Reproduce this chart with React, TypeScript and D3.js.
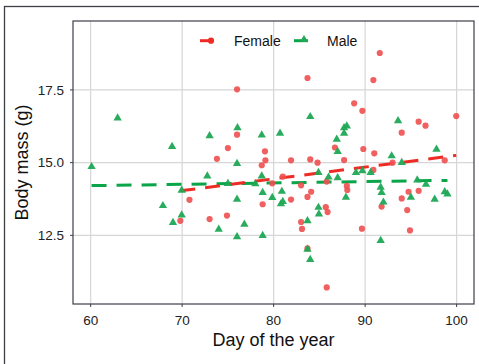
import React from "react";
import * as d3 from "d3";

// Day of the year and body mass (g) for each sex
const femaleDay = [69.8, 70.8, 73.0, 73.8, 75.0, 74.9, 76.0, 76.0, 78.7, 79.05, 79.1, 78.8, 79.85, 81.0, 81.9, 81.9, 83.0, 83.1, 83.0, 83.7, 83.7, 83.7, 84.0, 84.1, 84.8, 85.7, 85.9, 85.8, 85.8, 86.7, 87.7, 88.0, 88.05, 88.8, 89.7, 89.8, 89.65, 90.9, 91.0, 90.9, 91.6, 91.8, 93.0, 94.0, 94.0, 94.75, 94.6, 94.9, 95.85, 95.85, 96.6, 98.7, 99.96];
const femaleMass = [13.0, 13.72, 13.06, 15.13, 15.5, 13.18, 17.52, 15.96, 14.91, 15.39, 15.08, 13.57, 14.29, 14.52, 15.08, 13.73, 14.22, 12.72, 12.96, 17.91, 13.82, 12.05, 15.11, 14.0, 15.0, 13.47, 13.3, 10.71, 14.35, 15.52, 15.09, 14.2, 14.06, 17.04, 16.78, 15.47, 12.73, 17.84, 15.32, 14.75, 18.77, 13.49, 15.0, 16.03, 13.77, 14.0, 13.37, 12.67, 16.41, 14.03, 16.27, 15.08, 16.6];

const maleDay = [60.1, 62.95, 67.9, 68.9, 69.0, 69.95, 69.95, 72.75, 73.0, 74.0, 75.0, 76.0, 76.0, 76.05, 76.0, 76.8, 78.0, 78.7, 78.7, 78.8, 78.8, 79.85, 80.7, 80.9, 80.8, 81.0, 84.0, 83.7, 83.7, 84.0, 84.9, 84.95, 84.9, 86.0, 86.9, 87.0, 87.0, 87.7, 88.0, 87.7, 87.9, 89.0, 89.7, 90.6, 91.7, 91.8, 92.0, 91.7, 92.9, 93.6, 94.0, 95.0, 95.7, 96.65, 97.6, 97.8, 98.7, 99.0];
const maleMass = [14.86, 16.53, 13.52, 15.55, 12.94, 14.05, 13.2, 14.54, 15.92, 12.71, 14.28, 13.74, 14.97, 16.2, 12.45, 12.88, 14.27, 15.95, 14.54, 13.97, 12.49, 13.8, 16.01, 14.01, 13.58, 13.66, 16.58, 13.0, 12.02, 11.67, 13.46, 13.23, 14.66, 14.5, 15.8, 15.38, 14.48, 16.2, 16.26, 16.01, 13.81, 14.66, 14.72, 14.66, 14.15, 13.97, 13.64, 12.32, 15.23, 16.44, 15.0, 13.81, 14.4, 14.25, 13.74, 15.46, 14.0, 13.92];

// Fitted linear trends (start and end of each line)
const femaleFitDay = [69.8, 99.96];
const femaleFitMass = [14.03, 15.25];
const maleFitDay = [60.1, 99.0];
const maleFitMass = [14.21, 14.39];

const xTicks = [60, 70, 80, 90, 100];
const yTicks = [12.5, 15.0, 17.5];
const seriesNames = ["Female", "Male"];

const RED_PT = "#ef4f4f";
const RED_LINE = "#ee2b24";
const GREEN_PT = "#1fa855";
const GREEN_LINE = "#0aa548";
const FONT = "'Liberation Sans', Arial, Helvetica, sans-serif";

export default function App() {
  const W = 479;
  const H = 364;
  const panel = { left: 73, top: 21, right: 474, bottom: 304 };

  const x = d3.scaleLinear().domain([58.07, 101.9]).range([panel.left, panel.right]);
  const y = d3.scaleLinear().domain([10.14, 19.87]).range([panel.bottom, panel.top]);

  const line = d3
    .line<[number, number]>()
    .x((d) => x(d[0]))
    .y((d) => y(d[1]));

  const femaleFit = femaleFitDay.map((d, i) => [d, femaleFitMass[i]] as [number, number]);
  const maleFit = maleFitDay.map((d, i) => [d, maleFitMass[i]] as [number, number]);

  const tri = d3.symbol().type(d3.symbolTriangle).size(30)() as string;
  const triSmall = d3.symbol().type(d3.symbolTriangle).size(30)() as string;

  const legendY = 40.7;

  return (
    <svg
      width={W}
      height={H}
      style={{ position: "absolute", left: 0, top: 0, background: "#ffffff" }}
      fontFamily={FONT}
    >
      <rect x={0} y={0} width={W} height={H} fill="#ffffff" />
      {/* outer frame */}
      <rect x={4.5} y={6.5} width={W + 20} height={H + 20} fill="none" stroke="#3c3f44" strokeWidth={1.3} />

      {/* grid */}
      {xTicks.map((t) => (
        <line key={"gx" + t} x1={x(t)} x2={x(t)} y1={panel.top} y2={panel.bottom} stroke="#d6d6d6" strokeWidth={1.2} />
      ))}
      {yTicks.map((t) => (
        <line key={"gy" + t} x1={panel.left} x2={panel.right} y1={y(t)} y2={y(t)} stroke="#d6d6d6" strokeWidth={1.2} />
      ))}

      {/* trend lines */}
      <path d={line(maleFit) as string} fill="none" stroke={GREEN_LINE} strokeWidth={3} strokeDasharray="15 10" />
      <path d={line(femaleFit) as string} fill="none" stroke={RED_LINE} strokeWidth={3} strokeDasharray="15 10" />

      {/* points */}
      {femaleDay.map((d, i) => (
        <circle key={"f" + i} cx={x(d)} cy={y(femaleMass[i])} r={3.1} fill={RED_PT} fillOpacity={0.9} />
      ))}
      {maleDay.map((d, i) => (
        <path key={"m" + i} d={tri} transform={`translate(${x(d)},${y(maleMass[i])})`} fill={GREEN_PT} fillOpacity={0.95} />
      ))}

      {/* panel border */}
      <rect
        x={panel.left}
        y={panel.top}
        width={panel.right - panel.left}
        height={panel.bottom - panel.top}
        fill="none"
        stroke="#3c3f4a"
        strokeWidth={1.2}
      />

      {/* x axis */}
      {xTicks.map((t) => (
        <g key={"tx" + t}>
          <line x1={x(t)} x2={x(t)} y1={panel.bottom} y2={panel.bottom + 3} stroke="#3c3f4a" strokeWidth={1} />
          <text x={x(t)} y={325} textAnchor="middle" fontSize={13.5} fill="#222">
            {t}
          </text>
        </g>
      ))}
      {/* y axis */}
      {yTicks.map((t) => (
        <g key={"ty" + t}>
          <line x1={panel.left - 3} x2={panel.left} y1={y(t)} y2={y(t)} stroke="#3c3f4a" strokeWidth={1} />
          <text x={64} y={y(t)} dy="0.35em" textAnchor="end" fontSize={13.5} fill="#222">
            {t.toFixed(1)}
          </text>
        </g>
      ))}

      <text x={(panel.left + panel.right) / 2} y={346} textAnchor="middle" fontSize={18} fill="#111">
        Day of the year
      </text>
      <text
        transform={`translate(28,${(panel.top + panel.bottom) / 2}) rotate(-90)`}
        textAnchor="middle"
        fontSize={18}
        fill="#111"
      >
        Body mass (g)
      </text>

      {/* legend */}
      <g>
        <line x1={200} x2={213} y1={legendY} y2={legendY} stroke={RED_LINE} strokeWidth={3} />
        <circle cx={211} cy={legendY} r={3.1} fill={RED_LINE} />
        <text x={234} y={46} fontSize={14} fill="#111">
          {seriesNames[0]}
        </text>
        <line x1={294} x2={308} y1={legendY} y2={legendY} stroke={GREEN_LINE} strokeWidth={3} />
        <path d={triSmall} transform={`translate(304,${legendY - 1})`} fill={GREEN_PT} />
        <text x={327} y={46} fontSize={14} fill="#111">
          {seriesNames[1]}
        </text>
      </g>
    </svg>
  );
}
